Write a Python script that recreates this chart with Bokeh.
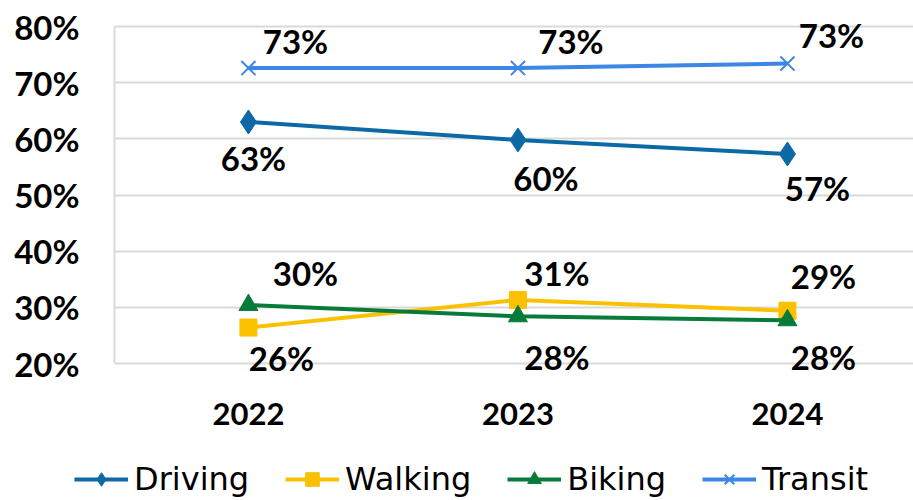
from bokeh.plotting import figure
from bokeh.layouts import column
from bokeh.models import ColumnDataSource, Range1d, FixedTicker, Legend, LegendItem
from bokeh.core.properties import value
from bokeh.embed import file_html
from bokeh.resources import INLINE

years = ["2022", "2023", "2024"]
driving = [63.0, 59.8, 57.3]
walking = [26.4, 31.3, 29.4]
biking = [30.4, 28.4, 27.7]
transit = [72.6, 72.6, 73.4]
y_ticks = [20, 30, 40, 50, 60, 70, 80]

series = [
    ("Driving", driving, "#0d69a6", "diamond", 24),
    ("Walking", walking, "#fbc100", "square", 17),
    ("Biking", biking, "#087a3a", "triangle", 19),
    ("Transit", transit, "#3c86e4", "x", 20),
]
# label offsets in screen pixels (dx right, dy down)
label_offsets = {
    "Driving": [(5, 36), (28, 38), (30, 34)],
    "Walking": [(33, 30), (39, -27), (36, -35)],
    "Biking": [(57, -32), (39, 41), (36, 37)],
    "Transit": [(47, -27), (53, -27), (44, -29)],
}

PX_PER_UNIT = 337 / 60.0
y_lo = 20 - 87 / PX_PER_UNIT
y_hi = 80 + 26 / PX_PER_UNIT

p = figure(frame_width=799, frame_height=450, output_backend="svg", toolbar_location=None,
           x_range=Range1d(-0.497, -0.497 + 799 / 269.5), y_range=Range1d(y_lo, y_hi),
           min_border_left=114, min_border_right=0, min_border_top=0, min_border_bottom=0,
           background_fill_color="white", border_fill_color="white")
p.outline_line_color = None

xs = list(range(len(years)))

p.xaxis.visible = False
p.xgrid.grid_line_color = None

p.yaxis.ticker = FixedTicker(ticks=y_ticks)
p.yaxis.bounds = (y_ticks[0], y_ticks[-1])
p.yaxis.major_label_overrides = {t: f"{t}%" for t in y_ticks}
p.yaxis.axis_line_color = "#d9d9d9"
p.yaxis.axis_line_width = 2
p.yaxis.major_tick_line_color = None
p.yaxis.minor_tick_line_color = None
p.yaxis.major_label_standoff = 29
p.yaxis.major_label_text_font = "Lato"
p.yaxis.major_label_text_font_style = "bold"
p.yaxis.major_label_text_font_size = "33px"
p.yaxis.major_label_text_color = "black"
p.ygrid.ticker = FixedTicker(ticks=y_ticks)
p.ygrid.grid_line_color = "#d9d9d9"
p.ygrid.grid_line_width = 2

# category labels under the plot area
ysrc = ColumnDataSource(dict(x=xs, y=[y_ticks[0]] * len(xs), t=years))
p.text("x", "y", text="t", source=ysrc, y_offset=50,
       text_font=value("Lato"), text_font_style="bold", text_font_size="31px",
       text_align="center", text_baseline="middle", text_color="black")

# separate strip for the legend (its own frame spans the full width)
lg = figure(width=913, height=50, output_backend="svg", toolbar_location=None,
            x_range=Range1d(0, 1), y_range=Range1d(0, 1),
            min_border_left=0, min_border_right=0, min_border_top=0, min_border_bottom=0,
            background_fill_color="white", border_fill_color="white")
lg.outline_line_color = None
lg.axis.visible = False
lg.grid.visible = False
try:
    lg.frame_align = False
except Exception:
    pass

items = []
for name, vals, color, marker, size in series:
    src = ColumnDataSource(dict(
        x=xs, y=vals,
        lab=[f"{round(v):.0f}%" for v in vals],
        dx=[o[0] for o in label_offsets[name]],
        dy=[o[1] for o in label_offsets[name]],
    ))
    p.line("x", "y", source=src, line_color=color, line_width=4)
    ln = lg.line("x", "y", source=src, line_color=color, line_width=4)
    if marker == "x":
        kw = dict(marker=marker, size=size, line_color=color, line_width=2)
    else:
        kw = dict(marker=marker, size=size, fill_color=color, line_color=color)
    p.scatter("x", "y", source=src, **kw)
    sc = lg.scatter("x", "y", source=src, **kw)
    p.text("x", "y", text="lab", source=src, x_offset="dx", y_offset="dy",
           text_font=value("Lato"), text_font_style="bold", text_font_size="33px",
           text_align="center", text_baseline="middle", text_color="black")
    items.append(LegendItem(label=name, renderers=[ln, sc]))

legend = Legend(items=items, orientation="horizontal", location=(74, 2),
                label_text_font="DejaVu Sans", label_text_font_size="32px",
                label_text_color="black", glyph_width=54, glyph_height=34,
                label_standoff=6, spacing=36, padding=0, margin=0,
                border_line_color=None, background_fill_alpha=0)
lg.add_layout(legend, "center")

open("out.html", "w").write(file_html(column(p, lg, spacing=0), INLINE))
